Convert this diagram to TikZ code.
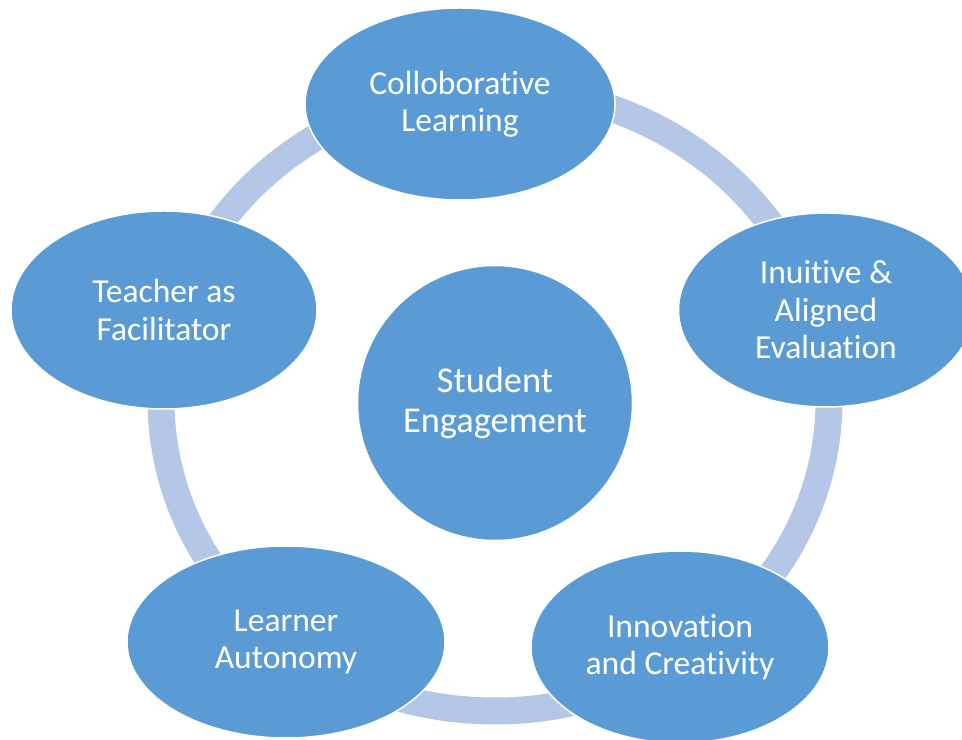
\documentclass[tikz,border=0pt]{standalone}
\usepackage{fontspec}
\setmainfont{Carlito}[Ligatures=NoCommon]
\usetikzlibrary{shapes.geometric}
\definecolor{azul}{HTML}{5B9BD5}
\definecolor{anillo}{HTML}{B4C7E7}
\tikzset{
  elipse/.style={ellipse,fill=azul,draw=white,line width=0.85pt,inner sep=0pt,
    text=white,align=center,font=\fontsize{19.1}{21.3}\selectfont},
  centro/.style={circle,fill=azul,draw=white,line width=0.85pt,inner sep=0pt,
    minimum size=5.5cm,text=white,align=center,font=\fontsize{20.7}{23.2}\selectfont}
}
\begin{document}
\begin{tikzpicture}
    \useasboundingbox (0,0) rectangle (19.24,14.8);

    % Anillo
    \coordinate (O) at (9.90,6.80);
    \draw[anillo,line width=0.54cm] (O) ellipse [x radius=6.68cm,y radius=6.22cm];

    % Centro
    \node[centro] (SE) at (9.90,6.74) {Student\\Engagement};

    % Elipses alrededor
    \node[elipse,minimum width=6.2cm,minimum height=3.84cm] (CL) at (9.20,12.72) {Colloborative\\Learning};
    \node[elipse,minimum width=5.9cm,minimum height=3.88cm] (IE) at (16.52,8.60) {Inuitive \&\\Aligned\\Evaluation};
    \node[elipse,minimum width=5.96cm,minimum height=3.84cm] (IC) at (13.60,1.86) {Innovation\\and Creativity};
    \node[elipse,minimum width=6.36cm,minimum height=3.84cm] (LA) at (5.72,1.96) {Learner\\Autonomy};
    \node[elipse,minimum width=6.12cm,minimum height=3.96cm] (TF) at (3.28,8.60) {Teacher as\\Facilitator};
\end{tikzpicture}
\end{document}
